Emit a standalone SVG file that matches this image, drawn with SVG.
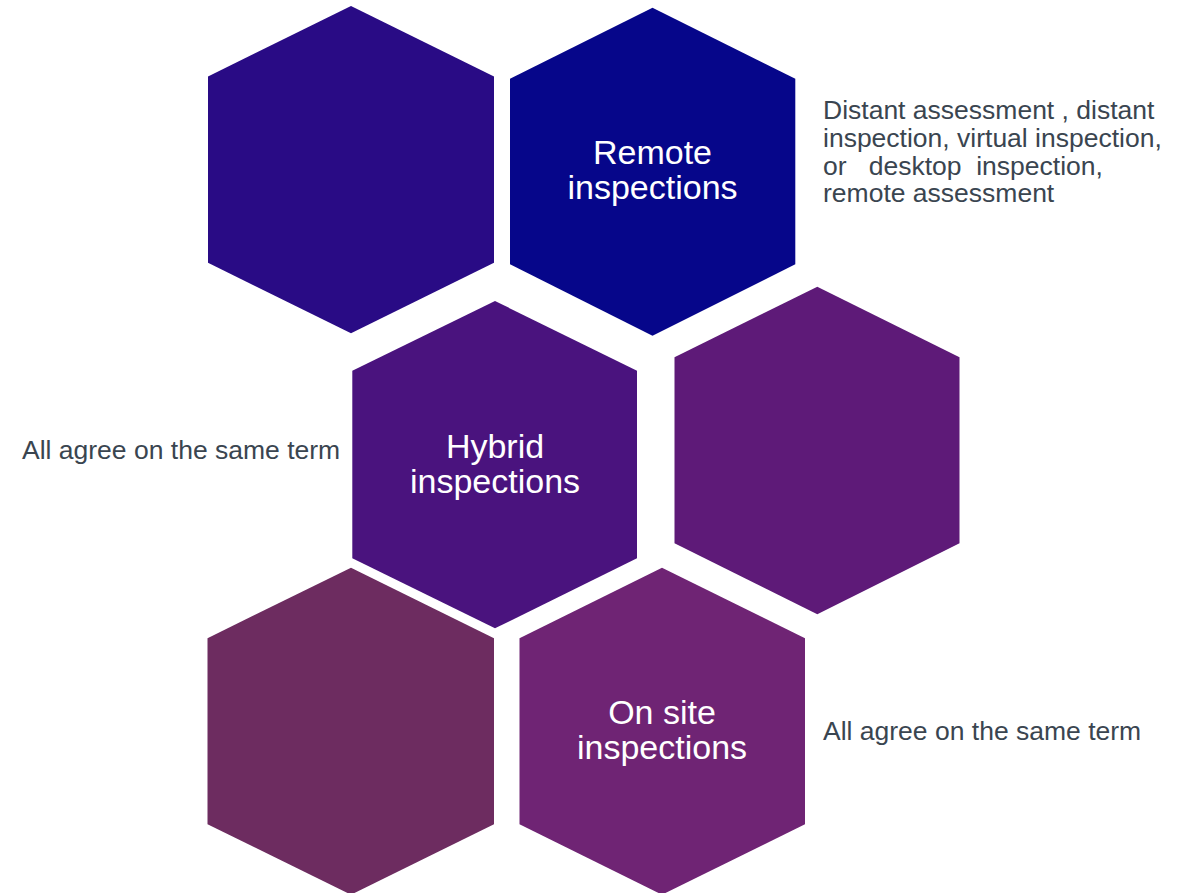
<svg xmlns="http://www.w3.org/2000/svg" width="1186" height="893" viewBox="0 0 1186 893">
<style>
.hexlabel{font-family:"Liberation Sans",Arial,sans-serif;font-size:34px;fill:#ffffff;text-anchor:middle}
.desc{font-family:"Liberation Sans",Arial,sans-serif;font-size:26.5px;fill:#3a4550}
</style>
<rect width="1186" height="893" fill="#ffffff"/>
<g id="hex-tl"><polygon points="351,6 494,76.5 494,262.7 351,333.3 208,262.7 208,76.5" fill="#290b85"/></g>
<g id="hex-remote"><polygon points="652.5,7.7 795.3,78.7 795.3,264.3 652.5,335.7 510,264.3 510,78.7" fill="#06068a"/>
<text class="hexlabel" x="652.5" y="164">Remote</text><text class="hexlabel" x="652.5" y="199">inspections</text></g>
<g id="hex-hybrid"><polygon points="495,301 637,370.7 637,558.3 495,628.3 352.3,558.3 352.3,370.7" fill="#4a137e"/>
<text class="hexlabel" x="495" y="458">Hybrid</text><text class="hexlabel" x="495" y="493">inspections</text></g>
<g id="hex-mr"><polygon points="817.3,286.7 959.5,357.3 959.5,543.3 817.3,614.3 674.5,543.3 674.5,357.3" fill="#5e1a78"/></g>
<g id="hex-bl"><polygon points="351,567.7 494,638.2 494,824.3 351,894.7 207.5,824.3 207.5,638.2" fill="#6d2c60"/></g>
<g id="hex-onsite"><polygon points="662,567.7 805,638.2 805,824.3 662,894.7 519.5,824.3 519.5,638.2" fill="#6f2474"/>
<text class="hexlabel" x="662" y="724">On site</text><text class="hexlabel" x="662" y="759">inspections</text></g>
<g id="desc-remote"><text class="desc" x="823" y="119">Distant assessment , distant</text>
<text class="desc" x="823" y="147">inspection, virtual inspection,</text>
<text class="desc" x="823" y="175" xml:space="preserve">or   desktop  inspection,</text>
<text class="desc" x="823" y="202">remote assessment</text></g>
<g id="desc-hybrid"><text class="desc" x="22" y="459">All agree on the same term</text></g>
<g id="desc-onsite"><text class="desc" x="823" y="740">All agree on the same term</text></g>
<g id="connectors"></g>
</svg>
